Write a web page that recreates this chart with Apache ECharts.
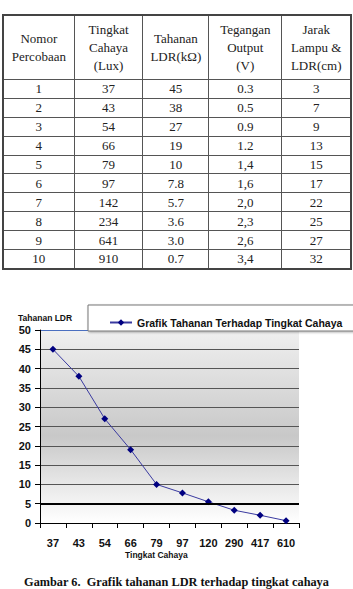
<!DOCTYPE html>
<html><head><meta charset="utf-8">
<script src="https://cdn.jsdelivr.net/npm/echarts@6/dist/echarts.min.js"></script>
<style>
html,body{margin:0;padding:0;background:#fff;width:353px;height:589px;overflow:hidden;position:relative;}
#tbl{position:absolute;left:2px;top:14px;width:350px;border-collapse:collapse;font-family:"Liberation Serif","Times New Roman",serif;font-size:13px;color:#222;border:2px solid #444;}
#tbl td,#tbl th{border:1px solid #555;text-align:center;padding:0;font-weight:normal;}
#tbl th{height:63px;line-height:18px;}
#tbl td{height:17.9px;line-height:17px;}
#chart{position:absolute;left:0;top:290px;width:353px;height:282px;}
#cap{position:absolute;left:0;top:575px;width:353px;line-height:14px;text-align:center;font-family:"Liberation Serif","Times New Roman",serif;font-weight:bold;font-size:12.3px;color:#111;white-space:nowrap;}
</style></head>
<body>
<table id="tbl"><thead><tr id="hdr"></tr></thead><tbody id="tb"></tbody></table>
<div id="chart"></div>
<div id="cap">Gambar 6.&nbsp; Grafik tahanan LDR terhadap tingkat cahaya</div>
<script>
// ---- table data ----
const headers = ['Nomor<br>Percobaan','Tingkat<br>Cahaya<br>(Lux)','Tahanan<br>LDR(kΩ)','Tegangan<br>Output<br>(V)','Jarak<br>Lampu &amp;<br>LDR(cm)'];
const nomor = ['1','2','3','4','5','6','7','8','9','10'];
const tingkatCahaya = ['37','43','54','66','79','97','142','234','641','910'];
const tahananLDR = ['45','38','27','19','10','7.8','5.7','3.6','3.0','0.7'];
const teganganOutput = ['0.3','0.5','0.9','1.2','1,4','1,6','2,0','2,3','2,6','3,4'];
const jarak = ['3','7','9','13','15','17','22','25','27','32'];
const colWidths = [71,70,66,74,69];

// ---- chart data ----
const categories = ['37','43','54','66','79','97','120','290','417','610'];
const resistance = [45,38,27,19,10,7.8,5.5,3.3,2.0,0.6];
const yTicks = {min:0,max:50,interval:5};
const seriesName = 'Grafik Tahanan Terhadap Tingkat Cahaya';

const hdr = document.getElementById('hdr');
headers.forEach((h,i)=>{const th=document.createElement('th');th.innerHTML=h;th.style.width=colWidths[i]+'px';hdr.appendChild(th);});
const tb = document.getElementById('tb');
nomor.forEach((n,i)=>{
  const tr=document.createElement('tr');
  [n,tingkatCahaya[i],tahananLDR[i],teganganOutput[i],jarak[i]].forEach(v=>{const td=document.createElement('td');td.textContent=v;tr.appendChild(td);});
  tb.appendChild(tr);
});

const sans = '"Liberation Sans",Arial,sans-serif';
const chart = echarts.init(document.getElementById('chart'),null,{renderer:'svg'});
const gridColors = ['#555','#000','#555','#555','#555','#555','#555','#555','#555','#555','#4a6fc0'];
chart.setOption({
  animation:false,
  graphic:[
    {type:'rect',shape:{x:88,y:15,width:270,height:26},style:{fill:'#fff',stroke:'#777',lineWidth:1,shadowBlur:2,shadowColor:'rgba(0,0,0,0.3)',shadowOffsetX:1,shadowOffsetY:1},z:10}
  ],
  legend:{
    data:[seriesName],left:104,top:22,itemWidth:22,itemHeight:8,itemGap:4,z:20,
    textStyle:{fontFamily:sans,fontWeight:'bold',fontSize:10.5,color:'#111'}
  },
  grid:{left:40,right:54,top:40,bottom:49,show:true,borderWidth:0,
    backgroundColor:new echarts.graphic.LinearGradient(0,0,0,1,[
      {offset:0,color:'#f0f0f0'},{offset:0.55,color:'#c8c8c8'},{offset:0.8,color:'#e8e8e8'},{offset:1,color:'#ffffff'}])},
  xAxis:{type:'category',data:categories,boundaryGap:true,
    axisLine:{lineStyle:{color:'#000',width:1}},
    axisTick:{show:true,length:5,lineStyle:{color:'#000'},alignWithLabel:false},
    axisLabel:{interval:0,margin:14,fontFamily:sans,fontWeight:'bold',fontSize:11,color:'#111'}
  },
  yAxis:{type:'value',min:yTicks.min,max:yTicks.max,interval:yTicks.interval,
    axisLine:{show:true,lineStyle:{color:'#000'}},
    axisTick:{show:true,length:5,lineStyle:{color:'#000'}},
    axisLabel:{margin:9,fontFamily:sans,fontWeight:'bold',fontSize:11,color:'#111'},
    splitLine:{show:true,lineStyle:{color:gridColors,width:1}}
  },
  series:[{
    name:seriesName,type:'line',data:resistance,
    symbol:'diamond',symbolSize:7,
    lineStyle:{color:'#3a3aa0',width:1},
    itemStyle:{color:'#000080'},
    markLine:{silent:true,symbol:'none',label:{show:false},lineStyle:{color:'#000',width:2,type:'solid'},data:[{yAxis:5}]}
  }],
  title:[
    {text:'Tahanan LDR',left:18,top:23,padding:0,textStyle:{fontFamily:sans,fontWeight:'bold',fontSize:8.5,color:'#111'}},
    {text:'Tingkat Cahaya',left:125,top:260,padding:0,textStyle:{fontFamily:sans,fontWeight:'bold',fontSize:8.5,color:'#111'}}
  ]
});
</script>
</body></html>
